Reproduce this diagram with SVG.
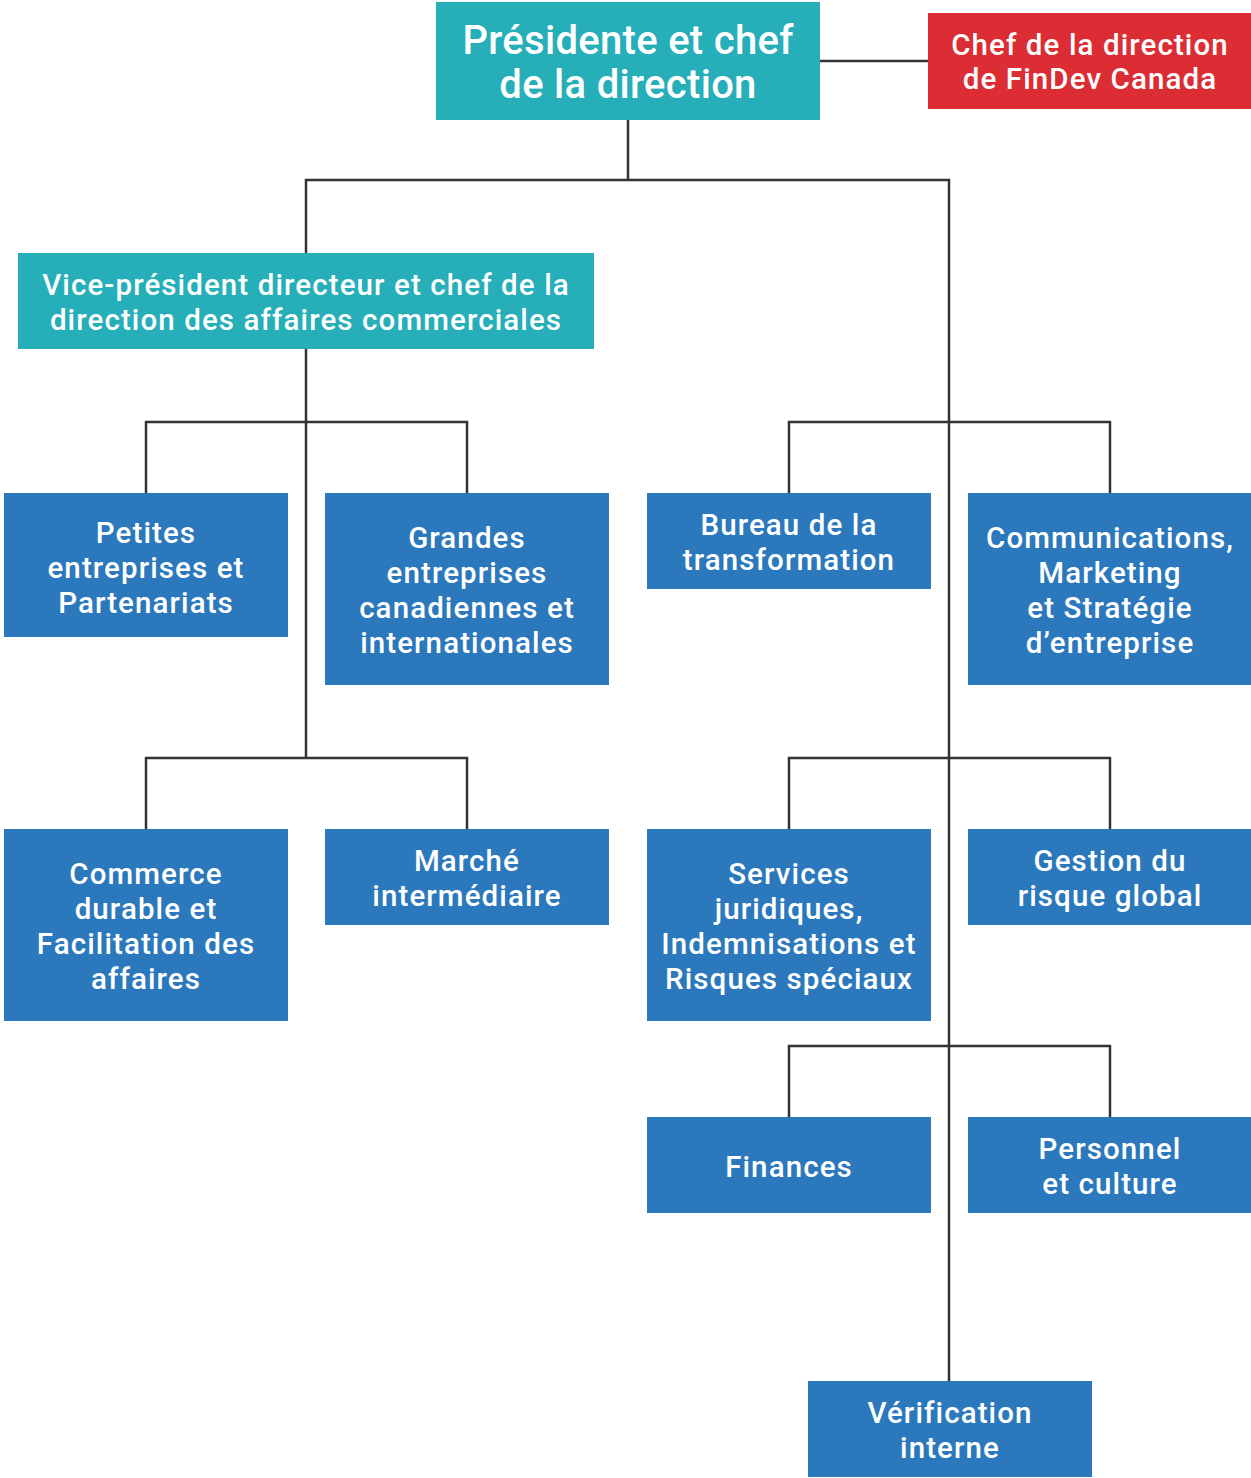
<svg xmlns="http://www.w3.org/2000/svg" width="1251" height="1478" viewBox="0 0 1251 1478">
<style>
.teal{fill:#26AEB9}
.red{fill:#DC2C34}
.blue{fill:#2C78BC}
text{font-family:Roboto,"Liberation Sans",sans-serif;font-weight:500;fill:#fff;text-anchor:middle;font-size:29.5px;letter-spacing:1.1px}
.big{font-size:40px;letter-spacing:0.3px}
.conn{fill:none;stroke:#333;stroke-width:2.5}
</style>
<rect width="1251" height="1478" fill="#fff"/>
<g id="connectors" class="conn">
<path d="M820,61H928"/>
<path d="M628,120V180M306,253V180H949V1381"/>
<path d="M306,349V758"/>
<path d="M146,493V422H467V493"/>
<path d="M146,829V758H467V829"/>
<path d="M789,493V422H1110V493"/>
<path d="M789,829V758H1110V829"/>
<path d="M789,1117V1046H1110V1117"/>
</g>
<g id="president"><rect class="teal" x="436" y="2" width="384" height="118"/><text class="big" x="628" y="54">Présidente et chef</text><text class="big" x="628" y="98">de la direction</text></g>
<g id="findev"><rect class="red" x="928" y="13" width="323" height="96"/><text x="1090" y="55">Chef de la direction</text><text x="1090" y="89">de FinDev Canada</text></g>
<g id="vp"><rect class="teal" x="18" y="253" width="576" height="96"/><text x="306" y="295">Vice-président directeur et chef de la</text><text x="306" y="330">direction des affaires commerciales</text></g>
<g id="petites"><rect class="blue" x="4" y="493" width="284" height="144"/><text x="146" y="543">Petites</text><text x="146" y="578">entreprises et</text><text x="146" y="613">Partenariats</text></g>
<g id="grandes"><rect class="blue" x="325" y="493" width="284" height="192"/><text x="467" y="548">Grandes</text><text x="467" y="583">entreprises</text><text x="467" y="618">canadiennes et</text><text x="467" y="653">internationales</text></g>
<g id="bureau"><rect class="blue" x="647" y="493" width="284" height="96"/><text x="789" y="535">Bureau de la</text><text x="789" y="570">transformation</text></g>
<g id="communications"><rect class="blue" x="968" y="493" width="283" height="192"/><text x="1110" y="548">Communications,</text><text x="1110" y="583">Marketing</text><text x="1110" y="618">et Stratégie</text><text x="1110" y="653">d’entreprise</text></g>
<g id="commerce"><rect class="blue" x="4" y="829" width="284" height="192"/><text x="146" y="884">Commerce</text><text x="146" y="919">durable et</text><text x="146" y="954">Facilitation des</text><text x="146" y="989">affaires</text></g>
<g id="marche"><rect class="blue" x="325" y="829" width="284" height="96"/><text x="467" y="871">Marché</text><text x="467" y="906">intermédiaire</text></g>
<g id="services"><rect class="blue" x="647" y="829" width="284" height="192"/><text x="789" y="884">Services</text><text x="789" y="919">juridiques,</text><text x="789" y="954">Indemnisations et</text><text x="789" y="989">Risques spéciaux</text></g>
<g id="gestion"><rect class="blue" x="968" y="829" width="283" height="96"/><text x="1110" y="871">Gestion du</text><text x="1110" y="906">risque global</text></g>
<g id="finances"><rect class="blue" x="647" y="1117" width="284" height="96"/><text x="789" y="1177">Finances</text></g>
<g id="personnel"><rect class="blue" x="968" y="1117" width="283" height="96"/><text x="1110" y="1159">Personnel</text><text x="1110" y="1194">et culture</text></g>
<g id="verification"><rect class="blue" x="808" y="1381" width="284" height="96"/><text x="950" y="1423">Vérification</text><text x="950" y="1458">interne</text></g>
</svg>
